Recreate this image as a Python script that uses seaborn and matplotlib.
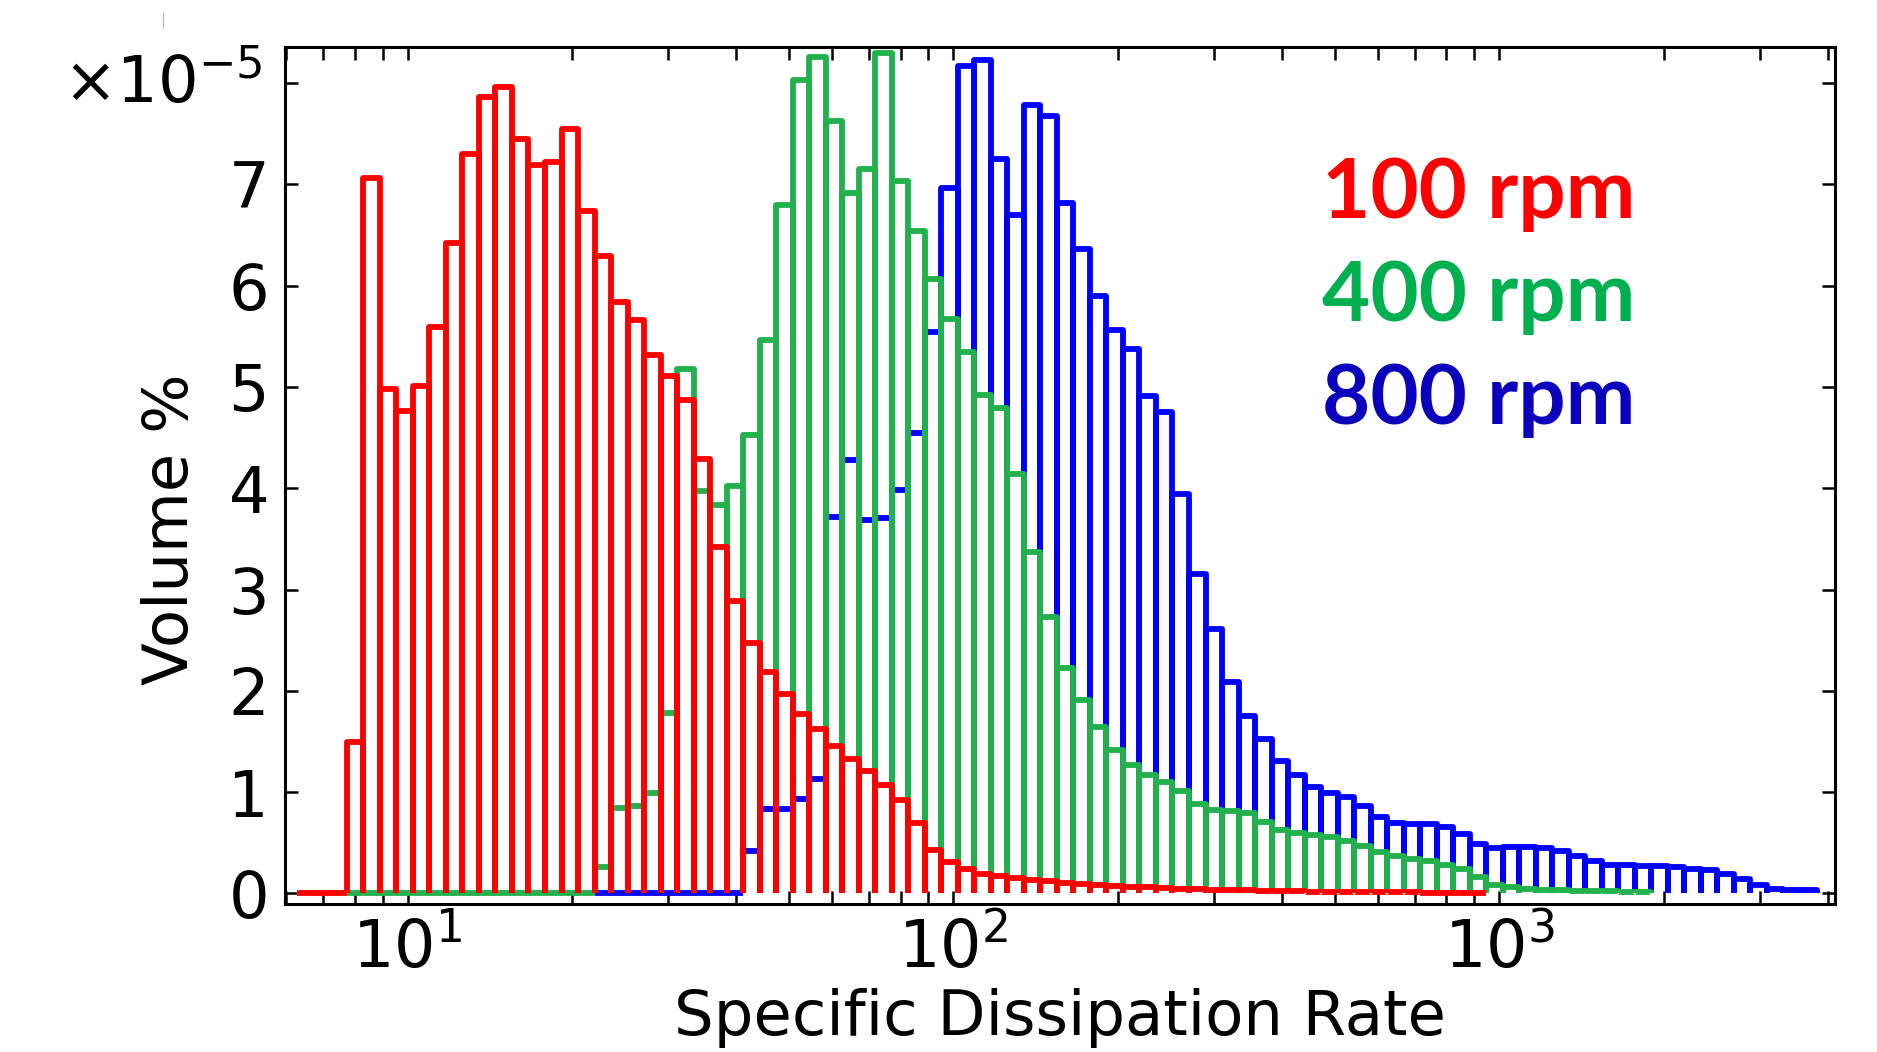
import numpy as np
import pandas as pd
import matplotlib
matplotlib.use("Agg")
import matplotlib.pyplot as plt
from matplotlib.lines import Line2D
from matplotlib.ticker import LogLocator, NullFormatter, FixedLocator, FixedFormatter
import seaborn as sns

# ---------------- data (volume %, in units of 1e-5) ----------------
# common log-spaced bins: log10(edge_k) = LOG_EDGE0 + k * LOG_BINW
LOG_EDGE0 = 0.798
LOG_BINW = 0.03025

red_first_bin = 0
red_values = [0, 0, 0, 1.50, 7.06, 4.98, 4.76, 5.01, 5.59, 6.42,
              7.30, 7.86, 7.96, 7.45, 7.19, 7.22, 7.55, 6.74, 6.29, 5.84,
              5.66, 5.32, 5.11, 4.87, 4.29, 3.42, 2.89, 2.47, 2.19, 1.97,
              1.77, 1.62, 1.46, 1.33, 1.21, 1.07, 0.92, 0.70, 0.43, 0.31,
              0.24, 0.19, 0.17, 0.15, 0.13, 0.12, 0.10, 0.09, 0.08, 0.07,
              0.065, 0.06, 0.05, 0.045, 0.04, 0.035, 0.03, 0.03, 0.025, 0.02,
              0.02, 0.015, 0.015, 0.01, 0.01, 0.01, 0.01, 0.01, 0.005, 0.005,
              0.005, 0.005]

green_first_bin = 3
green_values = [0, 0, 0, 0, 0, 0, 0, 0, 0, 0, 0, 0, 0, 0, 0,
                0.26, 0.84, 0.86, 0.99, 1.78, 5.18, 3.97, 3.83, 4.02, 4.53,
                5.46, 6.80, 8.03, 8.26, 7.63, 6.91, 7.15, 8.30, 7.03, 6.54,
                6.07, 5.67, 5.35, 4.92, 4.79, 4.14, 3.37, 2.73, 2.23, 1.91,
                1.64, 1.42, 1.27, 1.17, 1.10, 1.01, 0.88, 0.82, 0.81, 0.79,
                0.71, 0.63, 0.60, 0.58, 0.56, 0.52, 0.47, 0.41, 0.37, 0.34,
                0.32, 0.28, 0.24, 0.16, 0.08, 0.06, 0.04, 0.03, 0.03, 0.02,
                0.02, 0.02, 0.015, 0.01]

blue_first_bin = 18
blue_values = [0, 0, 0, 0, 0, 0, 0, 0, 0,
               0.42, 0.83, 0.83, 0.93, 1.13, 3.72, 4.28, 3.69, 3.71, 3.98,
               4.55, 5.54, 6.96, 8.17, 8.23, 7.25, 6.70, 7.78, 7.67, 6.82,
               6.36, 5.90, 5.56, 5.37, 4.91, 4.75, 3.94, 3.15, 2.61, 2.09,
               1.75, 1.52, 1.31, 1.17, 1.05, 0.99, 0.95, 0.86, 0.75, 0.70,
               0.69, 0.69, 0.66, 0.59, 0.49, 0.45, 0.46, 0.46, 0.45, 0.42,
               0.37, 0.32, 0.28, 0.28, 0.27, 0.27, 0.26, 0.24, 0.23, 0.19,
               0.14, 0.08, 0.04, 0.03, 0.03]

series_labels = ["100 rpm", "400 rpm", "800 rpm"]
x_label = "Specific Dissipation Rate"
y_label = "Volume %"
y_ticks = [0, 1, 2, 3, 4, 5, 6, 7, 8]
y_tick_labels = ["0", "1", "2", "3", "4", "5", "6", "7", ""]
offset_label = r"$\times10^{-5}$"

bar_colors = {"100 rpm": "#ff0000", "400 rpm": "#22b14c", "800 rpm": "#0000ff"}
text_colors = {"100 rpm": "#ff0000", "400 rpm": "#00b050", "800 rpm": "#0b00bb"}

# ---------------- style ----------------
sns.set_style("ticks")
plt.rcParams["font.family"] = ["DejaVu Sans"]
plt.rcParams["mathtext.fontset"] = "dejavusans"
for key in ["text.color", "axes.labelcolor", "xtick.color", "ytick.color",
            "axes.edgecolor"]:
    plt.rcParams[key] = "black"

fig = plt.figure(figsize=(18.77, 10.52), dpi=100)
ax = fig.add_axes([0.15184, 0.14068, 0.82579, 0.81464])

LW = 4.2


def draw_series(first_bin, values, color, z):
    n = len(values)
    k = np.arange(first_bin, first_bin + n)
    log_edges = [float(LOG_EDGE0 + LOG_BINW * j)
                 for j in range(first_bin, first_bin + n + 1)]
    centers = 10 ** (LOG_EDGE0 + LOG_BINW * (k + 0.5))
    df = pd.DataFrame({"rate": centers, "vol": values})
    before = len(ax.patches)
    sns.histplot(data=df, x="rate", weights="vol", bins=log_edges,
                 log_scale=True, element="bars", fill=False,
                 color=color, ax=ax)
    # redraw every bar as an open outline (no bottom edge), as in the original
    for p in list(ax.patches)[before:]:
        x0, y0 = p.get_x(), p.get_y()
        w, h = p.get_width(), p.get_height()
        ax.plot([x0, x0, x0 + w, x0 + w], [y0, y0 + h, y0 + h, y0],
                color=color, lw=LW, solid_joinstyle="round",
                solid_capstyle="butt", zorder=z)
        p.remove()


draw_series(blue_first_bin, blue_values, bar_colors["800 rpm"], 2.0)
draw_series(green_first_bin, green_values, bar_colors["400 rpm"], 2.1)
draw_series(red_first_bin, red_values, bar_colors["100 rpm"], 2.2)

ax.set_xscale("log")
ax.set_xlim(5.963, 4120)
ax.set_ylim(-0.104, 8.356)

ax.xaxis.set_major_locator(LogLocator(base=10, numticks=12))
ax.xaxis.set_minor_locator(LogLocator(base=10, subs=np.arange(2, 10), numticks=12))
ax.xaxis.set_minor_formatter(NullFormatter())
ax.yaxis.set_major_locator(FixedLocator(y_ticks))
ax.yaxis.set_major_formatter(FixedFormatter(y_tick_labels))

ax.tick_params(which="both", direction="in", top=True, right=True,
               length=9.7, width=1.8, color="black", labelcolor="black")
ax.tick_params(axis="x", which="major", labelsize=47, pad=9)
ax.tick_params(axis="y", which="major", labelsize=46, pad=11.5)
for s in ax.spines.values():
    s.set_linewidth(2.2)
    s.set_color("black")
ax.grid(False)

ax.set_xlabel(x_label, fontsize=45, va="baseline", color="black")
ax.xaxis.set_label_coords(0.5, -0.1529)
ax.set_ylabel(y_label, fontsize=45, va="center", color="black")
ax.yaxis.set_label_coords(-0.0735, 0.437)

fig.text(63 / 1877, 1 - 103.3 / 1052, offset_label, fontsize=46,
         ha="left", va="baseline", color="black")

for lbl, yb in zip(series_labels, [218, 321, 424]):
    fig.text(1322 / 1877, 1 - yb / 1052, lbl, color=text_colors[lbl],
             fontsize=60, fontweight="bold", family=["Lato", "DejaVu Sans"],
             ha="left", va="baseline")

fig.add_artist(Line2D([163 / 1877, 163 / 1877], [1 - 13 / 1052, 1 - 28 / 1052],
                      color="#c0c0c0", lw=1))

fig.savefig("out.png", dpi=100)
